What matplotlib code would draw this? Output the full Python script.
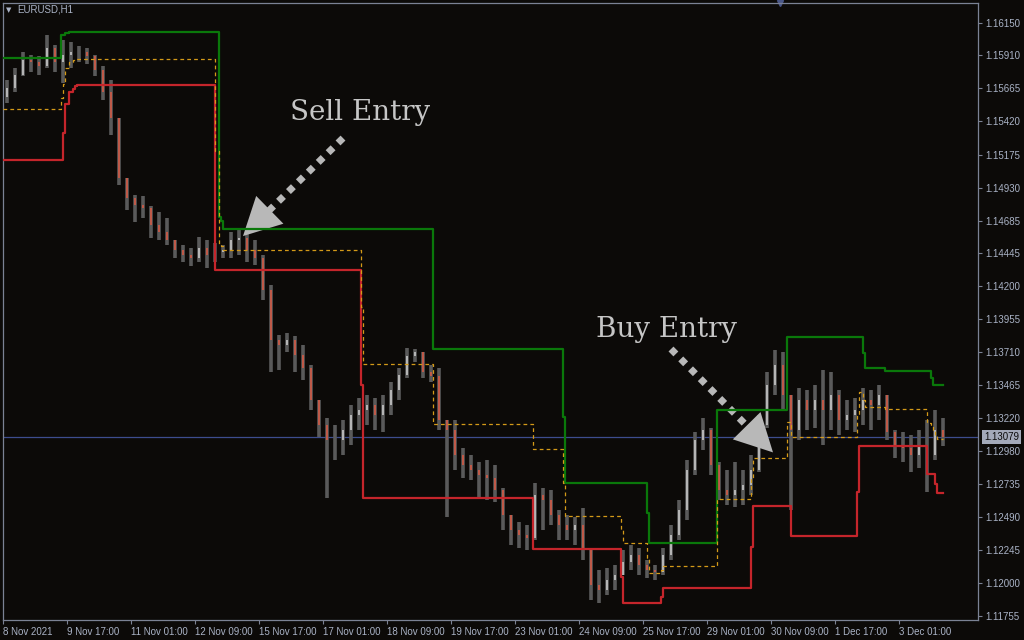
import matplotlib
matplotlib.use('Agg')
import matplotlib.pyplot as plt
import matplotlib.transforms as mtransforms
import numpy as np

BG = '#0c0a08'
AXIS_COL = '#7b8294'
TEXT_COL = '#aab3c6'

# EURUSD H1, one bar per 4 hours (hour index from 8 Nov 2021)
bar_hours = np.arange(2, 471, 4)
first_open = 1.15600
highs = [1.15727, 1.15816, 1.15935, 1.15912, 1.15905, 1.16061, 1.15987, 1.16024, 1.16009, 1.15979,
         1.15964, 1.15912, 1.15831, 1.15727, 1.15446, 1.15001, 1.14875, 1.14868, 1.14794, 1.14749,
         1.14705, 1.14542, 1.14505, 1.14482, 1.14564, 1.14542, 1.14519, 1.14505, 1.14601, 1.14616,
         1.14594, 1.14542, 1.14430, 1.14208, 1.13838, 1.13853, 1.13830, 1.13764, 1.13615, 1.13356,
         1.13223, 1.13171, 1.13208, 1.13319, 1.13371, 1.13393, 1.13371, 1.13393, 1.13489, 1.13593,
         1.13741, 1.13734, 1.13712, 1.13615, 1.13593, 1.13208, 1.13208, 1.13000, 1.12948, 1.12897,
         1.12911, 1.12874, 1.12704, 1.12504, 1.12452, 1.12430, 1.12741, 1.12704, 1.12689, 1.12541,
         1.12504, 1.12489, 1.12556, 1.12245, 1.12096, 1.12111, 1.12133, 1.12245, 1.12282, 1.12259,
         1.12170, 1.12133, 1.12259, 1.12430, 1.12615, 1.12911, 1.13119, 1.13223, 1.13149, 1.12897,
         1.12837, 1.12897, 1.12837, 1.12948, 1.13245, 1.13564, 1.13727, 1.13712, 1.13393, 1.13445,
         1.13430, 1.13467, 1.13578, 1.13564, 1.13430, 1.13356, 1.13371, 1.13445, 1.13430, 1.13467,
         1.13393, 1.13134, 1.13119, 1.13097, 1.13134, 1.13208, 1.13282, 1.13223]
lows = [1.15557, 1.15638, 1.15757, 1.15787, 1.15764, 1.15816, 1.15787, 1.15705, 1.15816, 1.15861,
        1.15846, 1.15757, 1.15579, 1.15320, 1.14949, 1.14764, 1.14675, 1.14705, 1.14556, 1.14542,
        1.14505, 1.14408, 1.14379, 1.14349, 1.14379, 1.14334, 1.14379, 1.14408, 1.14408, 1.14430,
        1.14379, 1.14356, 1.14097, 1.13564, 1.13578, 1.13712, 1.13564, 1.13504, 1.13282, 1.13082,
        1.12630, 1.12911, 1.12948, 1.13023, 1.13134, 1.13171, 1.13134, 1.13119, 1.13245, 1.13356,
        1.13519, 1.13638, 1.13519, 1.13489, 1.13134, 1.12489, 1.12837, 1.12778, 1.12763, 1.12637,
        1.12615, 1.12600, 1.12393, 1.12282, 1.12259, 1.12245, 1.12319, 1.12393, 1.12430, 1.12319,
        1.12319, 1.12282, 1.12170, 1.11874, 1.11852, 1.11911, 1.11948, 1.12059, 1.12096, 1.12059,
        1.12037, 1.12022, 1.12059, 1.12170, 1.12319, 1.12467, 1.12800, 1.12986, 1.12800, 1.12615,
        1.12578, 1.12563, 1.12578, 1.12652, 1.12823, 1.13149, 1.13393, 1.13282, 1.12541, 1.13060,
        1.13134, 1.13149, 1.13023, 1.13134, 1.13097, 1.13134, 1.13119, 1.13171, 1.13134, 1.13208,
        1.13060, 1.12926, 1.12897, 1.12823, 1.12852, 1.12674, 1.12911, 1.13015]
closes = [1.15668, 1.15764, 1.15875, 1.15861, 1.15831, 1.15964, 1.15861, 1.15912, 1.15935, 1.15935,
          1.15905, 1.15801, 1.15638, 1.15446, 1.15001, 1.14853, 1.14801, 1.14779, 1.14653, 1.14601,
          1.14542, 1.14468, 1.14430, 1.14408, 1.14482, 1.14430, 1.14453, 1.14468, 1.14542, 1.14556,
          1.14468, 1.14408, 1.14171, 1.13801, 1.13764, 1.13801, 1.13689, 1.13593, 1.13356, 1.13171,
          1.13060, 1.13060, 1.13134, 1.13245, 1.13282, 1.13319, 1.13245, 1.13319, 1.13430, 1.13541,
          1.13682, 1.13712, 1.13564, 1.13534, 1.13208, 1.13134, 1.12948, 1.12874, 1.12837, 1.12800,
          1.12778, 1.12689, 1.12504, 1.12393, 1.12356, 1.12333, 1.12652, 1.12615, 1.12504, 1.12430,
          1.12393, 1.12430, 1.12245, 1.11985, 1.11948, 1.12022, 1.12059, 1.12156, 1.12207, 1.12133,
          1.12096, 1.12082, 1.12207, 1.12356, 1.12541, 1.12837, 1.13060, 1.13134, 1.12874, 1.12689,
          1.12652, 1.12689, 1.12726, 1.12837, 1.13171, 1.13467, 1.13615, 1.13393, 1.13134, 1.13356,
          1.13282, 1.13356, 1.13282, 1.13393, 1.13208, 1.13245, 1.13282, 1.13356, 1.13319, 1.13393,
          1.13119, 1.13023, 1.13000, 1.12948, 1.13023, 1.12948, 1.13134, 1.13079]

# channel steps (hour index, level)
upper_hours = [0, 29, 31, 33, 108, 109, 110, 215, 280, 281, 322, 323, 357, 392, 430, 431, 441, 464, 465, 470]
upper_vals = [1.15887, 1.16061, 1.16076, 1.16083, 1.14712, 1.14682, 1.14623, 1.13734, 1.13230, 1.12741,
              1.12518, 1.12296, 1.13282, 1.13823, 1.13704, 1.13593, 1.13571, 1.13519, 1.13467, 1.13467]
lower_hours = [0, 30, 31, 33, 35, 36, 37, 106, 179, 180, 265, 309, 310, 329, 330, 374, 375, 394,
               427, 428, 462, 466, 467, 470]
lower_vals = [1.15134, 1.15335, 1.15550, 1.15638, 1.15661, 1.15683, 1.15690, 1.14319, 1.13467, 1.12630,
              1.12252, 1.12044, 1.11851, 1.11896, 1.11963, 1.12266, 1.12570, 1.12348, 1.12674, 1.13015,
              1.12807, 1.12733, 1.12667, 1.12667]

last_price = 1.13079
ytick_vals = [1.16150, 1.15910, 1.15665, 1.15420, 1.15175, 1.14930, 1.14685, 1.14445, 1.14200, 1.13955,
              1.13710, 1.13465, 1.13220, 1.12980, 1.12735, 1.12490, 1.12245, 1.12000, 1.11755]
xtick_labels = ['8 Nov 2021', '9 Nov 17:00', '11 Nov 01:00', '12 Nov 09:00', '15 Nov 17:00',
                '17 Nov 01:00', '18 Nov 09:00', '19 Nov 17:00', '23 Nov 01:00', '24 Nov 09:00',
                '25 Nov 17:00', '29 Nov 01:00', '30 Nov 09:00', '1 Dec 17:00', '3 Dec 01:00']
xtick_hours = [32 * i for i in range(len(xtick_labels))]


def step_at(hs, vs, h):
    return vs[np.searchsorted(hs, h, side='right') - 1]


def entry_arrow(ax, tail, tip, color):
    # dotted shaft, then a solid head on top
    ax.annotate('', xy=tip, xytext=tail,
                arrowprops=dict(arrowstyle='-', color=color, lw=5, ls=(0, (1, 1)),
                                capstyle='butt', shrinkA=0, shrinkB=16))
    ax.annotate('', xy=tip, xytext=tail,
                arrowprops=dict(arrowstyle='-|>,head_length=1.35,head_width=0.7', color=color,
                                lw=0, mutation_scale=20, shrinkA=0, shrinkB=0))


fig = plt.figure(figsize=(10.24, 6.4), dpi=100, facecolor=BG)
ax = fig.add_axes([3 / 1024, 20 / 640, 975 / 1024, 617 / 640], facecolor=BG)

# candles
highs = np.array(highs)
lows = np.array(lows)
closes = np.array(closes)
opens = np.r_[first_open, closes[:-1]]
top = np.maximum(highs, np.maximum(opens, closes))
bot = np.minimum(lows, np.minimum(opens, closes))
ax.vlines(bar_hours, bot, top, color='#5a5a5a', lw=2.6, zorder=2)
body_cols = np.where(closes >= opens, '#b8b8b8', '#c25a49')
ax.vlines(bar_hours, np.minimum(opens, closes), np.maximum(opens, closes),
          colors=body_cols, lw=1.4, zorder=3)

# channel
ax.plot(upper_hours, upper_vals, drawstyle='steps-post', color='#0a780a', lw=1.6, zorder=4)
ax.plot(lower_hours, lower_vals, drawstyle='steps-post', color='#c5252b', lw=1.6, zorder=4)
mid_hours = sorted(set(upper_hours) | set(lower_hours))
mid_vals = [(step_at(upper_hours, upper_vals, h) + step_at(lower_hours, lower_vals, h)) / 2 for h in mid_hours]
ax.plot(mid_hours, mid_vals, drawstyle='steps-post', color='#d49a18', lw=0.9, ls=(0, (3, 2.5)), zorder=4)

ax.axhline(last_price, color='#3d4d8e', lw=0.9, zorder=1)

ax.set_xlim(0, 487.5)
ax.set_ylim(1.11726, 1.16298)

# axes styling
for s in ax.spines.values():
    s.set_color(AXIS_COL)
    s.set_linewidth(0.9)
ax.yaxis.tick_right()
ax.set_yticks(ytick_vals)
ax.set_yticklabels([f'{v:.5f}' for v in ytick_vals])
ax.set_xticks(xtick_hours)
ax.set_xticklabels(xtick_labels)
for lab in ax.get_xticklabels():
    lab.set_ha('left')
ax.tick_params(axis='both', colors=AXIS_COL, labelcolor=TEXT_COL, length=3, width=0.8,
               labelsize=7, pad=2)
for lab in ax.get_xticklabels() + ax.get_yticklabels():
    lab.set_family('Liberation Sans')

# last price tag
trans = mtransforms.blended_transform_factory(ax.transAxes, ax.transData)
ax.text(1.006, last_price, f'{last_price:.5f}', transform=trans, fontsize=7, family='Liberation Sans',
        color='#0c0c0c', va='center', ha='left',
        bbox=dict(boxstyle='square,pad=0.2', fc='#a3a9b9', ec='none'), clip_on=False)

# chart shift marker on top edge
ax.plot([388.5], [1.0], marker='v', ms=5, color='#4a5788', clip_on=False,
        transform=mtransforms.blended_transform_factory(ax.transData, ax.transAxes))

fig.text(6 / 1024, 1 - 10 / 640, '\u25bc', color=TEXT_COL, fontsize=5, va='center')
fig.text(17 / 1024, 1 - 10 / 640, 'EURUSD,H1', color=TEXT_COL, fontsize=7,
         family='Liberation Sans', va='center')

# entry annotations
ARROW_COL = '#b8b8b8'
ax.text(178.5, 1.15483, 'Sell Entry', family='DejaVu Serif', fontsize=20, color='#c6c6c6',
        ha='center', va='center')
entry_arrow(ax, (170, 1.15297), (120, 1.14571), ARROW_COL)
ax.text(332, 1.13882, 'Buy Entry', family='DejaVu Serif', fontsize=20, color='#c6c6c6',
        ha='center', va='center')
entry_arrow(ax, (334, 1.13734), (385, 1.12968), ARROW_COL)

fig.savefig('out.png', dpi=100, facecolor=BG)
